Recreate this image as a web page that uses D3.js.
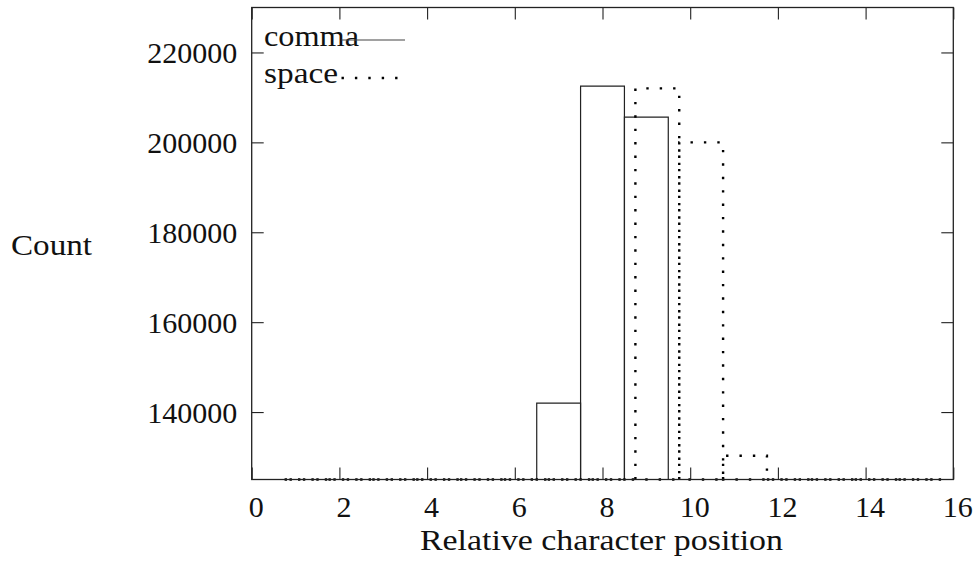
<!DOCTYPE html>
<html>
<head>
<meta charset="utf-8">
<script src="https://cdn.jsdelivr.net/npm/d3@7"></script>
<style>
  html, body { margin: 0; padding: 0; background: #fff; }
  svg { display: block; }
  text { font-family: "Liberation Serif", "Times New Roman", serif; fill: #111; }
</style>
</head>
<body>
<svg id="chart"></svg>
<script>
// Character position histogram: comma vs space (boxes, gnuplot look)

const positions   = [1, 2, 3, 4, 5, 6, 7, 8, 9, 10, 11, 12, 13, 14, 15];
const commaCounts = [0, 0, 0, 0, 0, 0, 142000, 212500, 205600, 0, 0, 0, 0, 0, 0];
const spaceCounts = [0, 0, 0, 0, 0, 0, 0, 0, 212000, 200000, 130300, 0, 0, 0, 0];
const spaceShift  = 0.25;   // space series drawn offset to the right

const xTicks = [0, 2, 4, 6, 8, 10, 12, 14, 16];
const yTicks = [140000, 160000, 180000, 200000, 220000];
const seriesNames = ['comma', 'space'];

const W = 977, H = 561;
const plotL = 251.7, plotR = 953.3, plotT = 7.5, plotB = 479.5;
const tickLen = 12;
const dotDash = '2.4 11';

const svg = d3.select('#chart').attr('width', W).attr('height', H);

const x = d3.scaleLinear().domain([0, 16]).range([plotL, plotR]);
const y = d3.scaleLinear().domain([125000, 230000]).range([plotB, plotT]);
const yMin = y.domain()[0];

// ─── Boxes ───────────────────────────────────────────────────────────────────
function boxPath(cx, v) {
  const x0 = x(cx - 0.5), x1 = x(cx + 0.5);
  const yb = y(yMin), yt = y(Math.max(v, yMin));
  return `M${x0},${yb}L${x0},${yt}L${x1},${yt}L${x1},${yb}Z`;
}

const commaData = positions.map((p, i) => ({ p, v: commaCounts[i] }));
const spaceData = positions.map((p, i) => ({ p: p + spaceShift, v: spaceCounts[i] }));

svg.append('g')
  .selectAll('path')
  .data(commaData)
  .join('path')
  .attr('d', d => boxPath(d.p, d.v))
  .attr('fill', 'none')
  .attr('stroke', '#222')
  .attr('stroke-width', 1.2);

svg.append('g')
  .selectAll('path')
  .data(spaceData)
  .join('path')
  .attr('d', d => boxPath(d.p, d.v))
  .attr('fill', 'none')
  .attr('stroke', '#000')
  .attr('stroke-width', 2.4)
  .attr('stroke-dasharray', dotDash);

// ─── Axes (ticks inward, mirrored) ───────────────────────────────────────────
const xAxis = svg.append('g')
  .attr('transform', `translate(0,${plotB})`)
  .call(d3.axisBottom(x).tickValues(xTicks).tickSize(-tickLen).tickFormat(d3.format('d')));
const xAxisTop = svg.append('g')
  .attr('transform', `translate(0,${plotT})`)
  .call(d3.axisTop(x).tickValues(xTicks).tickSize(-tickLen).tickFormat(''));
const yAxis = svg.append('g')
  .attr('transform', `translate(${plotL},0)`)
  .call(d3.axisLeft(y).tickValues(yTicks).tickSize(-tickLen).tickFormat(d3.format('d')));
const yAxisRight = svg.append('g')
  .attr('transform', `translate(${plotR},0)`)
  .call(d3.axisRight(y).tickValues(yTicks).tickSize(-tickLen).tickFormat(''));

[xAxis, xAxisTop, yAxis, yAxisRight].forEach(g => {
  g.select('.domain').remove();
  g.selectAll('line').attr('stroke', '#222').attr('stroke-width', 1.1);
});

xAxis.selectAll('text')
  .attr('y', 37.5).attr('dy', null).attr('x', 4)
  .attr('font-size', 30).attr('font-family', null).attr('fill', '#111');
yAxis.selectAll('text')
  .attr('x', -14.5).attr('dy', '0.34em')
  .attr('font-size', 30).attr('font-family', null).attr('fill', '#111');

// frame
svg.append('rect')
  .attr('x', plotL).attr('y', plotT)
  .attr('width', plotR - plotL).attr('height', plotB - plotT)
  .attr('fill', 'none').attr('stroke', '#222').attr('stroke-width', 1.3);

// ─── Axis titles ─────────────────────────────────────────────────────────────
svg.append('text')
  .attr('x', 420).attr('y', 550)
  .attr('font-size', 30)
  .attr('textLength', 363).attr('lengthAdjust', 'spacingAndGlyphs')
  .text('Relative character position');

svg.append('text')
  .attr('x', 11).attr('y', 255)
  .attr('font-size', 30)
  .attr('textLength', 81).attr('lengthAdjust', 'spacingAndGlyphs')
  .text('Count');

// ─── Legend ──────────────────────────────────────────────────────────────────
const legend = svg.append('g');
const legendRows = [
  { name: seriesNames[0], base: 46, lineY: 40, len: 95, dashed: false },
  { name: seriesNames[1], base: 83, lineY: 78, len: 74, dashed: true }
];
legendRows.forEach(r => {
  legend.append('text')
    .attr('x', 264).attr('y', r.base)
    .attr('font-size', 30)
    .attr('textLength', r.len).attr('lengthAdjust', 'spacingAndGlyphs')
    .text(r.name);
  const ln = legend.append('line')
    .attr('x1', 341.5).attr('x2', 405)
    .attr('y1', r.lineY).attr('y2', r.lineY);
  if (r.dashed) {
    ln.attr('stroke', '#000').attr('stroke-width', 2.4).attr('stroke-dasharray', dotDash);
  } else {
    ln.attr('stroke', '#444').attr('stroke-width', 1.2);
  }
});
</script>
</body>
</html>
